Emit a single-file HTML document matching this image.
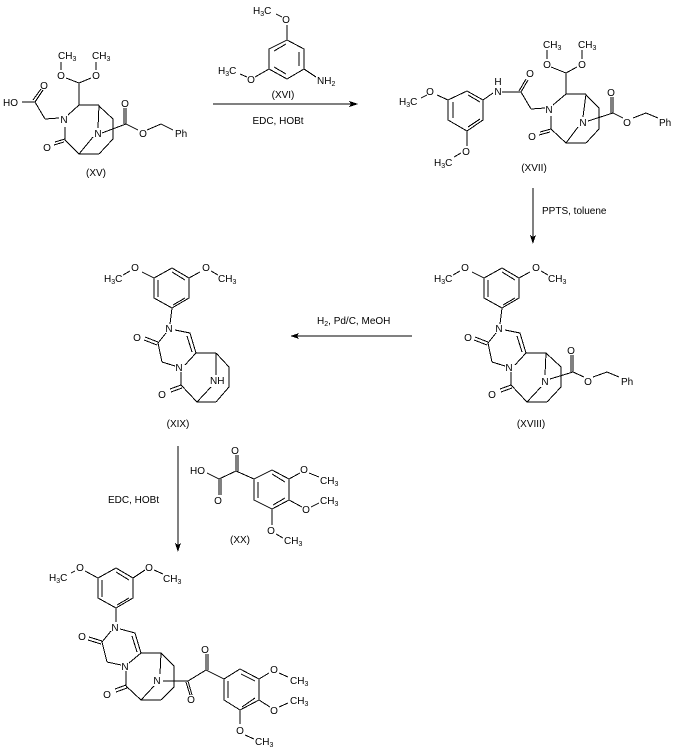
<!DOCTYPE html>
<html><head><meta charset="utf-8">
<style>
html,body{margin:0;padding:0;background:#fff;width:677px;height:753px;overflow:hidden}
svg{display:block}
path{fill:none;stroke:#000;stroke-width:1;shape-rendering:crispEdges}
text{font-family:"Liberation Sans",Arial,sans-serif;font-size:10px;fill:#000}
.m{text-anchor:middle}
.s{font-size:7px}
polygon{fill:#000;shape-rendering:crispEdges}
</style></head><body>
<svg width="677" height="753" viewBox="0 0 677 753" xmlns="http://www.w3.org/2000/svg">

<!-- XV -->
<path d="M61 62V70M96 62V70M66 78L79 83L91 78M79 83V105H99M79 105L68 115M45 119L59 118M45 119L35 102L22 102M35 102L43 90M33 100L41 89M65 127V140M55 142L65 139M54 145L64 142M65 140L79 154H99M79 154L93 137M99 105L98 128M99 106L113 119V139L99 154M102 133L126 124M126 124V108M124 124V108M126 124L138 130M147 130L161 124L173 130"/>
<text x="58" y="59">CH<tspan class="s" dy="2">3</tspan></text>
<text x="92" y="59">CH<tspan class="s" dy="2">3</tspan></text>
<text class="m" x="61" y="79">O</text><text class="m" x="96" y="79">O</text>
<text class="m" x="44" y="89">O</text><text x="3" y="106">HO</text>
<text class="m" x="64" y="123">N</text><text class="m" x="98" y="137">N</text>
<text class="m" x="47" y="151">O</text><text class="m" x="125" y="107">O</text>
<text class="m" x="143" y="137">O</text><text x="175" y="137">Ph</text>
<text class="m" x="96" y="176">(XV)</text>

<!-- XVI -->
<path d="M287 40L304 49V69L287 79L269 69V49ZM274 51L286 44M274 67L286 74M299 52V66M287 25V40M276 14L282 17M240 74L247 77M255 77L269 69M304 69L316 77"/>
<text class="m" x="286" y="23">O</text><text x="253" y="14">H<tspan class="s" dy="2">3</tspan><tspan dy="-2">C</tspan></text>
<text class="m" x="251" y="83">O</text><text x="218" y="74">H<tspan class="s" dy="2">3</tspan><tspan dy="-2">C</tspan></text>
<text x="317" y="84">NH<tspan class="s" dy="2">2</tspan></text>
<text class="m" x="283" y="98">(XVI)</text>

<path d="M213 104H352"/><polygon points="358,104 349,101 351,104 349,107"/>
<text class="m" x="278" y="124">EDC, HOBt</text>

<!-- XVII -->
<path d="M547 50V59M582 50V59M551 67L566 73L577 67M566 73V94H586M566 94L553 105M531 109L545 108M531 109L521 92M521 92L528 80M519 91L526 79M521 92H502M493 93L483 100L483 120L467 131L448 120L448 100L467 91L483 100M468 95L480 102M468 127L480 119M453 102V118M437 95L448 100M421 98L427 95M467 131V146M454 157L461 153M551 116V129M540 132L551 129M539 135L550 132M551 129L566 143H586M566 143L578 127M586 94L583 117M586 95L599 108V129L586 143M588 121L613 113M613 113V97M611 113V97M613 113L623 118M633 118L646 113L658 118"/>
<text x="543" y="48">CH<tspan class="s" dy="2">3</tspan></text>
<text x="578" y="48">CH<tspan class="s" dy="2">3</tspan></text>
<text class="m" x="547" y="68">O</text><text class="m" x="582" y="68">O</text>
<text class="m" x="530" y="77">O</text>
<text class="m" x="498" y="85">H</text><text class="m" x="498" y="95">N</text>
<text class="m" x="430" y="95">O</text><text x="399" y="105">H<tspan class="s" dy="2">3</tspan><tspan dy="-2">C</tspan></text>
<text class="m" x="466" y="155">O</text><text x="434" y="166">H<tspan class="s" dy="2">3</tspan><tspan dy="-2">C</tspan></text>
<text class="m" x="549" y="113">N</text><text class="m" x="583" y="126">N</text>
<text class="m" x="532" y="140">O</text><text class="m" x="611" y="96">O</text>
<text class="m" x="627" y="126">O</text><text x="659" y="126">Ph</text>
<text class="m" x="534" y="171">(XVII)</text>

<path d="M533 188V238"/><polygon points="533,244 530,235 533,237 536,235"/>
<text x="542" y="214">PPTS, toluene</text>

<!-- XVIII -->
<path d="M502 268L519 278V298L502 308L484 298V278ZM502 272L515 280M488 280V297M503 305L515 298M472 272L484 278M453 275L460 271M519 278L530 272M541 271L548 275M502 308L500 324M505 330L520 333L526 353M517 336L522 352M526 353H546M526 353L515 365M492 362L505 366M492 362L488 343L496 333M475 337L488 342M474 340L487 345M511 372V385M500 389L511 385M501 392L512 388M511 385L527 402H547M527 402L541 387M546 353L545 375M546 353L561 367V387L547 402M550 379L573 372M573 372V355M571 372V355M573 372L584 377M593 377L607 372L619 377"/>
<text class="m" x="465" y="271">O</text><text x="434" y="282">H<tspan class="s" dy="2">3</tspan><tspan dy="-2">C</tspan></text>
<text class="m" x="536" y="271">O</text><text x="548" y="282">CH<tspan class="s" dy="2">3</tspan></text>
<text class="m" x="499" y="332">N</text><text class="m" x="468" y="341">O</text>
<text class="m" x="509" y="371">N</text><text class="m" x="492" y="398">O</text>
<text class="m" x="545" y="385">N</text><text class="m" x="571" y="354">O</text>
<text class="m" x="588" y="385">O</text><text x="621" y="385">Ph</text>
<text class="m" x="531" y="427">(XVIII)</text>

<path d="M295 336H412"/><polygon points="290,336 299,333 297,336 299,339"/>
<text x="317" y="324">H<tspan class="s" dy="2">2</tspan><tspan dy="-2">, Pd/C, MeOH</tspan></text>

<!-- XIX -->
<path d="M172 268L189 278V298L172 308L154 298V278ZM172 272L185 280M158 280V297M173 305L185 298M142 272L154 278M123 275L130 271M189 278L200 272M211 271L218 275M172 308L170 324M175 330L190 333L196 353M187 336L192 352M196 353H216M196 353L185 365M162 362L175 366M162 362L158 343L166 333M145 337L158 342M144 340L157 345M181 372V385M170 389L181 385M171 392L182 388M181 385L197 402H216M197 402L211 387M216 353V375M216 353L229 367V387L216 402"/>
<text class="m" x="135" y="271">O</text><text x="104" y="282">H<tspan class="s" dy="2">3</tspan><tspan dy="-2">C</tspan></text>
<text class="m" x="206" y="271">O</text><text x="218" y="282">CH<tspan class="s" dy="2">3</tspan></text>
<text class="m" x="169" y="332">N</text><text class="m" x="137" y="341">O</text>
<text class="m" x="179" y="371">N</text><text class="m" x="162" y="398">O</text>
<text x="210" y="384">NH</text>
<text class="m" x="178" y="427">(XIX)</text>

<path d="M178 446V546"/><polygon points="178,552 175,543 178,545 181,543"/>
<text x="108" y="503">EDC, HOBt</text>

<!-- XX -->
<path d="M207 473L219 479M219 479V495M221 479V495M219 479L236 471M236 471V455M238 471V455M236 471L254 479L272 470L289 479V500L272 509L254 500V479M272 474L285 482M273 505L285 498M258 482V498M289 479L300 473M309 473L319 477M289 500L302 507M311 507L319 503M272 509V525M276 534L283 538"/>
<text x="190" y="474">HO</text><text class="m" x="218" y="504">O</text><text class="m" x="235" y="454">O</text>
<text class="m" x="304" y="473">O</text><text x="320" y="484">CH<tspan class="s" dy="2">3</tspan></text>
<text class="m" x="306" y="513">O</text><text x="320" y="504">CH<tspan class="s" dy="2">3</tspan></text>
<text class="m" x="271" y="534">O</text><text x="284" y="544">CH<tspan class="s" dy="2">3</tspan></text>
<text class="m" x="240" y="543">(XX)</text>

<!-- Product -->
<path d="M116 568L133 578V598L116 608L98 598V578ZM116 572L129 580M102 580V597M117 605L129 598M85 571L98 578M71 573L75 571M133 578L145 570M154 570L163 574M116 608V622M120 629L135 633L141 653M132 636L137 652M141 653H161M141 653L129 663M107 662L121 665M107 662L102 642L111 631M89 637L102 641M88 640L101 644M126 671V686M115 689L126 685M116 692L127 688M126 686L141 700H161M141 700L154 686M161 653L160 674M161 653L174 666V687L161 700M163 681H188M188 681L192 695M186 682L190 695M188 681L206 670M206 670V654M208 670V654M206 670L224 679L240 669L259 679V700L240 710L224 700V679M241 674L255 681M242 707L255 698M228 681V698M259 679L269 673M279 673L288 677M259 700L270 707M279 707L288 703M240 710V724M245 735L254 739"/>
<text class="m" x="80" y="571">O</text><text x="49" y="581">H<tspan class="s" dy="2">3</tspan><tspan dy="-2">C</tspan></text>
<text class="m" x="149" y="571">O</text><text x="163" y="582">CH<tspan class="s" dy="2">3</tspan></text>
<text class="m" x="115" y="631">N</text><text class="m" x="82" y="640">O</text>
<text class="m" x="125" y="670">N</text><text class="m" x="107" y="698">O</text>
<text class="m" x="157" y="684">N</text><text class="m" x="191" y="703">O</text>
<text class="m" x="205" y="653">O</text>
<text class="m" x="274" y="673">O</text><text x="290" y="684">CH<tspan class="s" dy="2">3</tspan></text>
<text class="m" x="274" y="714">O</text><text x="290" y="704">CH<tspan class="s" dy="2">3</tspan></text>
<text class="m" x="240" y="734">O</text><text x="255" y="745">CH<tspan class="s" dy="2">3</tspan></text>
</svg>
</body></html>
